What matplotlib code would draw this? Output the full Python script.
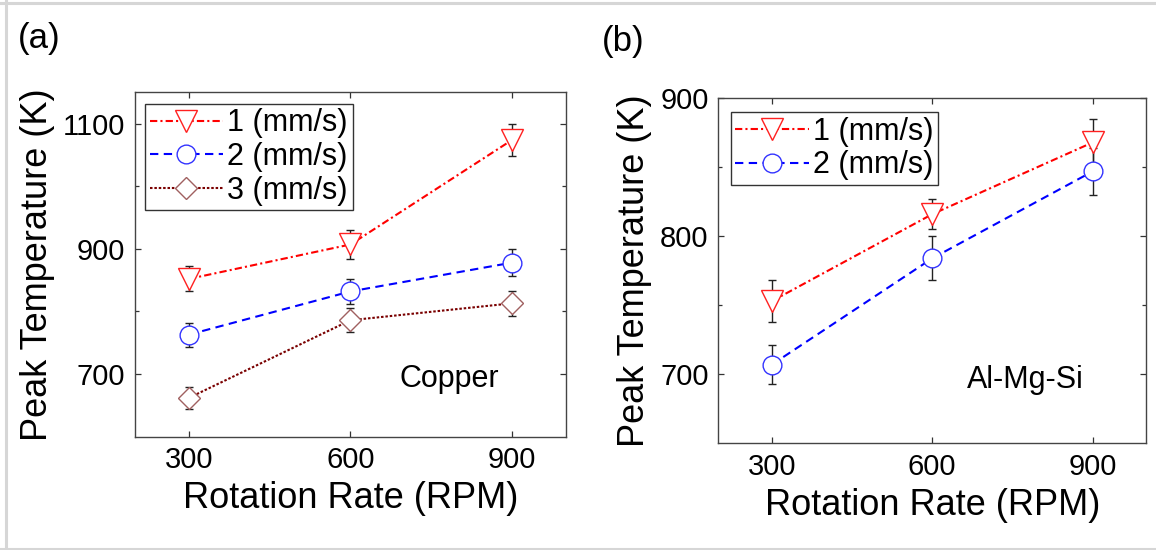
import matplotlib
matplotlib.use("Agg")
import matplotlib.pyplot as plt
from matplotlib.lines import Line2D

plt.rcParams['font.family'] = ['Liberation Sans', 'DejaVu Sans']

# rotation rates (RPM)
rpm = [300, 600, 900]

# copper: peak temperature (K) and error for each traverse speed
cu_v1 = [852, 907, 1074]
cu_v1_err = [20, 23, 26]
cu_v2 = [763, 832, 878]
cu_v2_err = [19, 20, 22]
cu_v3 = [662, 786, 813]
cu_v3_err = [17, 19, 20]

# Al-Mg-Si
al_v1 = [753, 816, 868]
al_v1_err = [15, 11, 17]
al_v2 = [707, 784, 847]
al_v2_err = [14, 16, 17]

labels = ['1 (mm/s)', '2 (mm/s)', '3 (mm/s)']

styles = [
    dict(color='#ff0000', dashes=(3.5, 1.5, 1, 1.5), marker='v', ms=15.5,
         mec='#ff2020'),
    dict(color='#0000ff', dashes=(4, 2.6), marker='o', ms=13.5, mec='#3333ff'),
    dict(color='#7a0000', dashes=(1.2, 0.9), marker='D', ms=11.3,
         mec='#a06060'),
]


def draw_series(ax, y, err, st, label):
    ax.errorbar(rpm, y, yerr=err, fmt='none', ecolor='#222222',
                elinewidth=1.0, capsize=2.6, capthick=1.0, zorder=2)
    ax.plot(rpm, y, color=st['color'], lw=1.5, dashes=st['dashes'],
            marker=st['marker'], ms=st['ms'], mfc='white', mec=st['mec'],
            mew=1.0, label=label, zorder=3)


def style_axes(ax, ylim, ymajor, yminor, ylab_x):
    ax.set_xlim(200, 1000)
    ax.set_ylim(*ylim)
    ax.set_xticks(rpm)
    ax.set_yticks(ymajor)
    ax.set_yticks(yminor, minor=True)
    ax.tick_params(which='both', direction='in', top=True, right=True,
                   color='#333333', width=0.9, labelsize=21, pad=7)
    ax.tick_params(which='major', length=4.5)
    ax.tick_params(which='minor', length=3)
    for sp in ax.spines.values():
        sp.set_color('#444444')
        sp.set_linewidth(1.0)
    ax.set_xlabel('Rotation Rate (RPM)', fontsize=26)
    ax.set_ylabel('Peak Temperature (K)', fontsize=26)
    ax.xaxis.label.set_va('center')
    ax.yaxis.label.set_va('center')
    ax.xaxis.set_label_coords(0.5, -0.18)
    ax.yaxis.set_label_coords(ylab_x, 0.5)


fig = plt.figure(figsize=(11.56, 5.5), dpi=100)
ax1 = fig.add_axes([0.1168, 0.206, 0.3728, 0.6262])
ax2 = fig.add_axes([0.6214, 0.194, 0.3700, 0.6273])

for y, e, st, lb in zip([cu_v1, cu_v2, cu_v3], [cu_v1_err, cu_v2_err, cu_v3_err],
                        styles, labels):
    draw_series(ax1, y, e, st, lb)
for y, e, st, lb in zip([al_v1, al_v2], [al_v1_err, al_v2_err], styles, labels):
    draw_series(ax2, y, e, st, lb)

style_axes(ax1, (600, 1150), [700, 900, 1100], [800, 1000], -0.227)
style_axes(ax2, (650, 900), [700, 800, 900], [750, 850], -0.195)

for ax, anchor in [(ax1, (0.023, 0.967)), (ax2, (0.029, 0.960))]:
    leg = ax.legend(loc='upper left', bbox_to_anchor=anchor, borderaxespad=0,
                    fontsize=22, handlelength=2.4, handletextpad=0.15,
                    labelspacing=0.12, borderpad=0.15, fancybox=False,
                    framealpha=1, edgecolor='#333333', numpoints=1)
    leg.get_frame().set_linewidth(1.0)

ax1.text(783, 692, 'Copper', fontsize=22, ha='center', va='center')
ax2.text(774, 696, 'Al-Mg-Si', fontsize=22, ha='center', va='center')

fig.text(18 / 1156, 1 - 38.5 / 550, '(a)', fontsize=25, ha='left', va='center')
fig.text(602 / 1156, 1 - 42 / 550, '(b)', fontsize=25, ha='left', va='center')

# thin grey frame around the figure (left, top, bottom)
frame_kw = dict(color='#d6d6d6', lw=2.2, transform=fig.transFigure)
fig.add_artist(Line2D([6 / 1156, 6 / 1156], [0, 1], **frame_kw))
fig.add_artist(Line2D([0, 1], [1 - 2.5 / 550, 1 - 2.5 / 550], **frame_kw))
fig.add_artist(Line2D([0, 1], [1 - 548.5 / 550, 1 - 548.5 / 550], **frame_kw))

fig.savefig('out.png', dpi=100)
